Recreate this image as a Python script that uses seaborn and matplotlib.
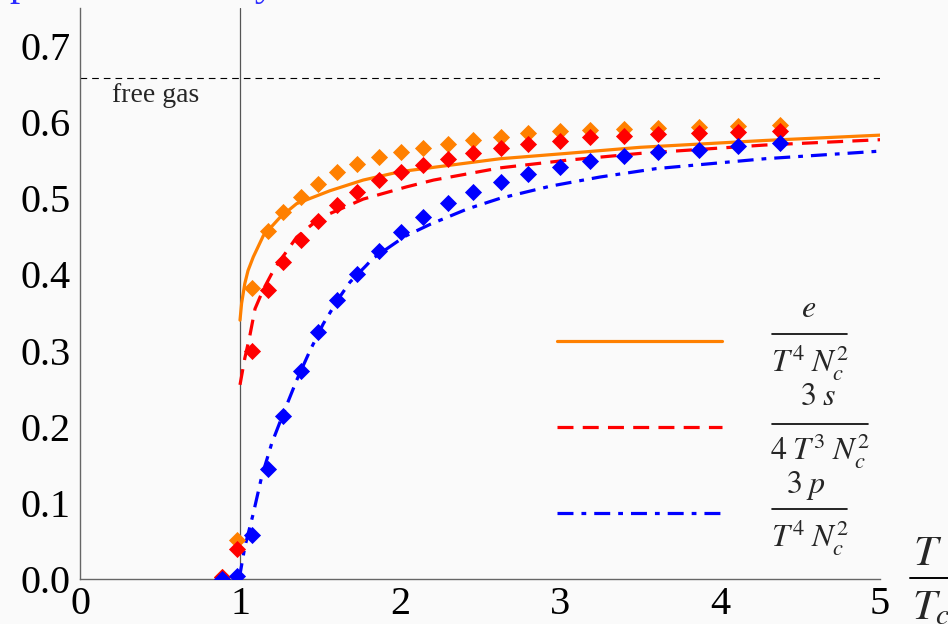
import matplotlib
matplotlib.use("Agg")
import matplotlib.pyplot as plt
import seaborn as sns
from matplotlib.lines import Line2D
from matplotlib.ticker import MultipleLocator, FixedLocator, FixedFormatter

# Lattice data: temperature in units of T_c and the three normalised ratios
t_lattice = [0.885, 0.979, 1.073, 1.177, 1.271, 1.38, 1.49, 1.608, 1.731, 1.869,
             2.006, 2.146, 2.302, 2.454, 2.631, 2.80, 3.0, 3.19, 3.40, 3.615,
             3.87, 4.115, 4.375]
e_lattice = [0.003, 0.051, 0.382, 0.457, 0.482, 0.502, 0.519, 0.535, 0.545, 0.554,
             0.561, 0.566, 0.572, 0.577, 0.581, 0.586, 0.588, 0.590, 0.591, 0.593,
             0.594, 0.595, 0.596]
s_lattice = [0.003, 0.039, 0.300, 0.379, 0.416, 0.445, 0.470, 0.491, 0.508, 0.524,
             0.535, 0.544, 0.552, 0.560, 0.566, 0.572, 0.575, 0.580, 0.582, 0.584,
             0.586, 0.587, 0.589]
p_lattice = [0.0, 0.004, 0.058, 0.145, 0.214, 0.273, 0.324, 0.366, 0.401, 0.431,
             0.456, 0.476, 0.494, 0.508, 0.521, 0.532, 0.541, 0.549, 0.556, 0.561,
             0.564, 0.569, 0.573]

# Model curves
t_e = [1.0, 1.01, 1.03, 1.05, 1.083, 1.146, 1.25, 1.354, 1.5625, 1.77, 2.0,
       2.625, 3.04, 3.5, 4.28, 5.0]
e_model = [0.340, 0.362, 0.388, 0.405, 0.423, 0.451, 0.475, 0.493, 0.510, 0.524,
           0.535, 0.552, 0.559, 0.567, 0.576, 0.583]

t_s = [1.0, 1.03, 1.06, 1.094, 1.145, 1.208, 1.25, 1.354, 1.458, 1.5625, 1.77,
       2.04, 2.21, 2.625, 3.04, 3.5, 4.28, 5.0]
s_model = [0.255, 0.290, 0.318, 0.355, 0.380, 0.405, 0.418, 0.449, 0.467, 0.480,
           0.499, 0.515, 0.524, 0.540, 0.550, 0.559, 0.570, 0.577]

t_p = [0.995, 1.03, 1.083, 1.135, 1.198, 1.27, 1.354, 1.4375, 1.52, 1.615, 1.6875,
       1.79, 1.83, 2.03, 2.19, 2.42, 2.625, 2.94, 3.25, 3.6, 4.28, 5.0]
p_model = [0.0, 0.042, 0.086, 0.134, 0.178, 0.217, 0.261, 0.300, 0.335, 0.368, 0.390,
           0.412, 0.421, 0.450, 0.466, 0.486, 0.500, 0.516, 0.528, 0.539, 0.552, 0.562]

free_gas = 0.658  # pi^2 / 15

x_ticks = [0, 1, 2, 3, 4, 5]
x_tick_labels = ["0", "1", "2", "3", "4", "5"]
y_ticks = [0.0, 0.1, 0.2, 0.3, 0.4, 0.5, 0.6, 0.7]
y_tick_labels = ["0.0", "0.1", "0.2", "0.3", "0.4", "0.5", "0.6", "0.7"]

# legend fractions: numerator, denominator
legend_num = [r"$e$", r"$3\;s$", r"$3\;p$"]
legend_den = [r"$T^{4}\;N_{c}^{2}$", r"$4\;T^{3}\;N_{c}^{2}$", r"$T^{4}\;N_{c}^{2}$"]

ORANGE = "#ff8000"
RED = "#ff0000"
BLUE = "#0000ff"
BG = "#fafafa"
AXIS = "#666666"

sns.set_style("white")
plt.rcParams.update({
    "font.family": ["Liberation Serif", "DejaVu Serif"],
    "mathtext.fontset": "stix",
    "axes.unicode_minus": False,
})

W, H = 948, 624
fig = plt.figure(figsize=(W / 100, H / 100), dpi=100, facecolor=BG)
ax = fig.add_axes([80 / W, 45 / H, 800 / W, 571 / H])
ax.set_facecolor(BG)

# model curves
sns.lineplot(x=t_e, y=e_model, color=ORANGE, lw=2.3, estimator=None, sort=False,
             ax=ax, legend=False)
line_e = ax.lines[-1]
sns.lineplot(x=t_s, y=s_model, color=RED, lw=2.3, estimator=None, sort=False,
             ax=ax, legend=False)
line_s = ax.lines[-1]
line_s.set_dashes((5.0, 2.9))
sns.lineplot(x=t_p, y=p_model, color=BLUE, lw=2.3, estimator=None, sort=False,
             ax=ax, legend=False)
line_p = ax.lines[-1]
line_p.set_dashes((5.0, 2.5, 1.5, 2.5))

# lattice points
for vals, col in [(e_lattice, ORANGE), (s_lattice, RED), (p_lattice, BLUE)]:
    sns.scatterplot(x=t_lattice, y=vals, color=col, marker="D", s=76,
                    linewidth=0, ax=ax, legend=False, zorder=3)

# reference lines
ax.axvline(1.0, color="#555555", lw=0.9, zorder=1)
ax.axhline(free_gas, color="black", lw=0.8, dashes=(6, 4.5), zorder=1)
ax.text(0.2, 0.635, "free gas", fontsize=20, va="center", ha="left")

ax.set_xlim(0, 5)
ax.set_ylim(0, 0.75)

for side in ["top", "right"]:
    ax.spines[side].set_visible(False)
for side in ["left", "bottom"]:
    ax.spines[side].set_color(AXIS)
    ax.spines[side].set_linewidth(1.0)

ax.xaxis.set_major_locator(FixedLocator(x_ticks))
ax.xaxis.set_major_formatter(FixedFormatter(x_tick_labels))
ax.yaxis.set_major_locator(FixedLocator(y_ticks))
ax.yaxis.set_major_formatter(FixedFormatter(y_tick_labels))
ax.xaxis.set_minor_locator(MultipleLocator(0.2))
ax.yaxis.set_minor_locator(MultipleLocator(0.02))
ax.tick_params(which="both", direction="in", color=AXIS, width=0.9)
ax.tick_params(which="major", length=5.5, labelsize=29, labelcolor="black")
ax.tick_params(which="minor", length=4.5)
ax.tick_params(axis="y", which="major", pad=7)
ax.tick_params(axis="x", which="major", pad=5)
ax.set_xlabel("")
ax.set_ylabel("")

# legend: sample line followed by a stacked fraction label
def ax_xy(px, py):
    return (px - 80) / 800, (579 - py) / 571

rows = [
    # handle y, numerator (x, baseline), bar (x0, x1, y), denominator (x, baseline)
    dict(line=line_e, hy=341, num=(809, 317), bar=(772, 847, 334), den=(810, 372)),
    dict(line=line_s, hy=427, num=(818, 405), bar=(772, 868, 424), den=(820, 460)),
    dict(line=line_p, hy=513, num=(806, 493), bar=(772, 847, 509), den=(810, 547)),
]
for row, num, den in zip(rows, legend_num, legend_den):
    src = row["line"]
    x0, y0 = ax_xy(557, row["hy"])
    x1, _ = ax_xy(722, row["hy"])
    sample = Line2D([x0, x1], [y0, y0], transform=ax.transAxes, color=src.get_color(),
                    lw=src.get_linewidth())
    if src is line_s:
        sample.set_dashes((5.0, 2.9))
    elif src is line_p:
        sample.set_dashes((5.0, 2.5, 1.5, 2.5))
    ax.add_line(sample)
    nx, ny = ax_xy(*row["num"])
    ax.text(nx, ny, num, transform=ax.transAxes, fontsize=23, ha="center",
            va="baseline", clip_on=False)
    bx0, by = ax_xy(row["bar"][0], row["bar"][2])
    bx1, _ = ax_xy(row["bar"][1], row["bar"][2])
    ax.add_line(Line2D([bx0, bx1], [by, by], transform=ax.transAxes, color="black",
                       lw=1.2, clip_on=False))
    dx, dy = ax_xy(*row["den"])
    ax.text(dx, dy, den, transform=ax.transAxes, fontsize=23, ha="center",
            va="baseline", clip_on=False)

# axis title T / T_c to the right of the horizontal axis
fig.text(928 / W, 1 - 565 / H, r"$T$", fontsize=31, ha="center", va="baseline")
fig.add_artist(Line2D([910 / W, 1.0], [1 - 578 / H, 1 - 578 / H],
                      transform=fig.transFigure, color="black", lw=1.4))
fig.text(912 / W, 1 - 619 / H, r"$T_c$", fontsize=31, ha="left", va="baseline")

fig.text(0.011, 1.008, "pressure density", color="#2a2aff", fontsize=29.5,
         va="baseline", ha="left")

fig.savefig("out.png", dpi=100, facecolor=BG)
